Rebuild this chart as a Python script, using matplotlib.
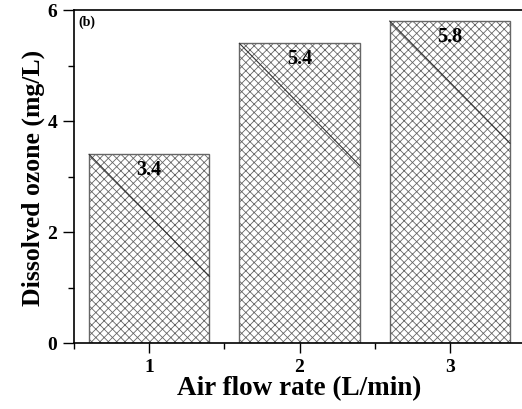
import numpy as np
import matplotlib
matplotlib.use('Agg')
from matplotlib import pyplot as plt
from matplotlib.ticker import MultipleLocator

# Data
flow_rate = [1, 2, 3]
ozone = [3.4, 5.4, 5.8]
value_labels = ['3.4', '5.4', '5.8']

plt.rcParams['font.family'] = ['Liberation Serif', 'DejaVu Serif']
plt.rcParams['font.weight'] = 'bold'
plt.rcParams['hatch.color'] = '#555555'
plt.rcParams['hatch.linewidth'] = 0.6

fig = plt.figure(figsize=(5.22, 4.10), dpi=100)
ax = fig.add_axes([74 / 522, 66 / 410, 451 / 522, 333 / 410])

bar_w = 0.8
bars = ax.bar(flow_rate, ozone, width=bar_w, color='white', edgecolor='#666666',
              hatch='xxxx', linewidth=1.0)

# diagonal stroke through each bar, as in the scanned figure
for x, h in zip(flow_rate, ozone):
    ax.plot([x - bar_w / 2, x + bar_w / 2], [h, h - 2.2], color='#333333', lw=0.8)

for x, h, s in zip(flow_rate, ozone, value_labels):
    ax.text(x, h - 0.27, s, ha='center', va='center', fontsize=14.5, fontweight='bold')

ax.set_xlim(0.5, 3.5)
ax.set_ylim(0, 6)
ax.set_xticks(flow_rate)
ax.set_yticks([0, 2, 4, 6])
ax.xaxis.set_minor_locator(MultipleLocator(0.5))
ax.yaxis.set_minor_locator(MultipleLocator(1))
ax.tick_params(which='major', direction='out', length=8, width=1, labelsize=14)
ax.tick_params(axis='x', which='major', length=7, pad=4)
ax.tick_params(axis='y', which='major', pad=4)
ax.tick_params(which='minor', direction='out', length=4, width=1)

for sp in ax.spines.values():
    sp.set_linewidth(1.2)

ax.set_xlabel('Air flow rate (L/min)', fontsize=19.5, fontweight='bold', labelpad=0)
ax.set_ylabel('Dissolved ozone (mg/L)', fontsize=18.5, fontweight='bold', labelpad=2)
ax.text(0.01, 0.985, '(b)', transform=ax.transAxes, ha='left', va='top',
        fontsize=10, fontweight='bold')

plt.savefig('out.png', dpi=100)
